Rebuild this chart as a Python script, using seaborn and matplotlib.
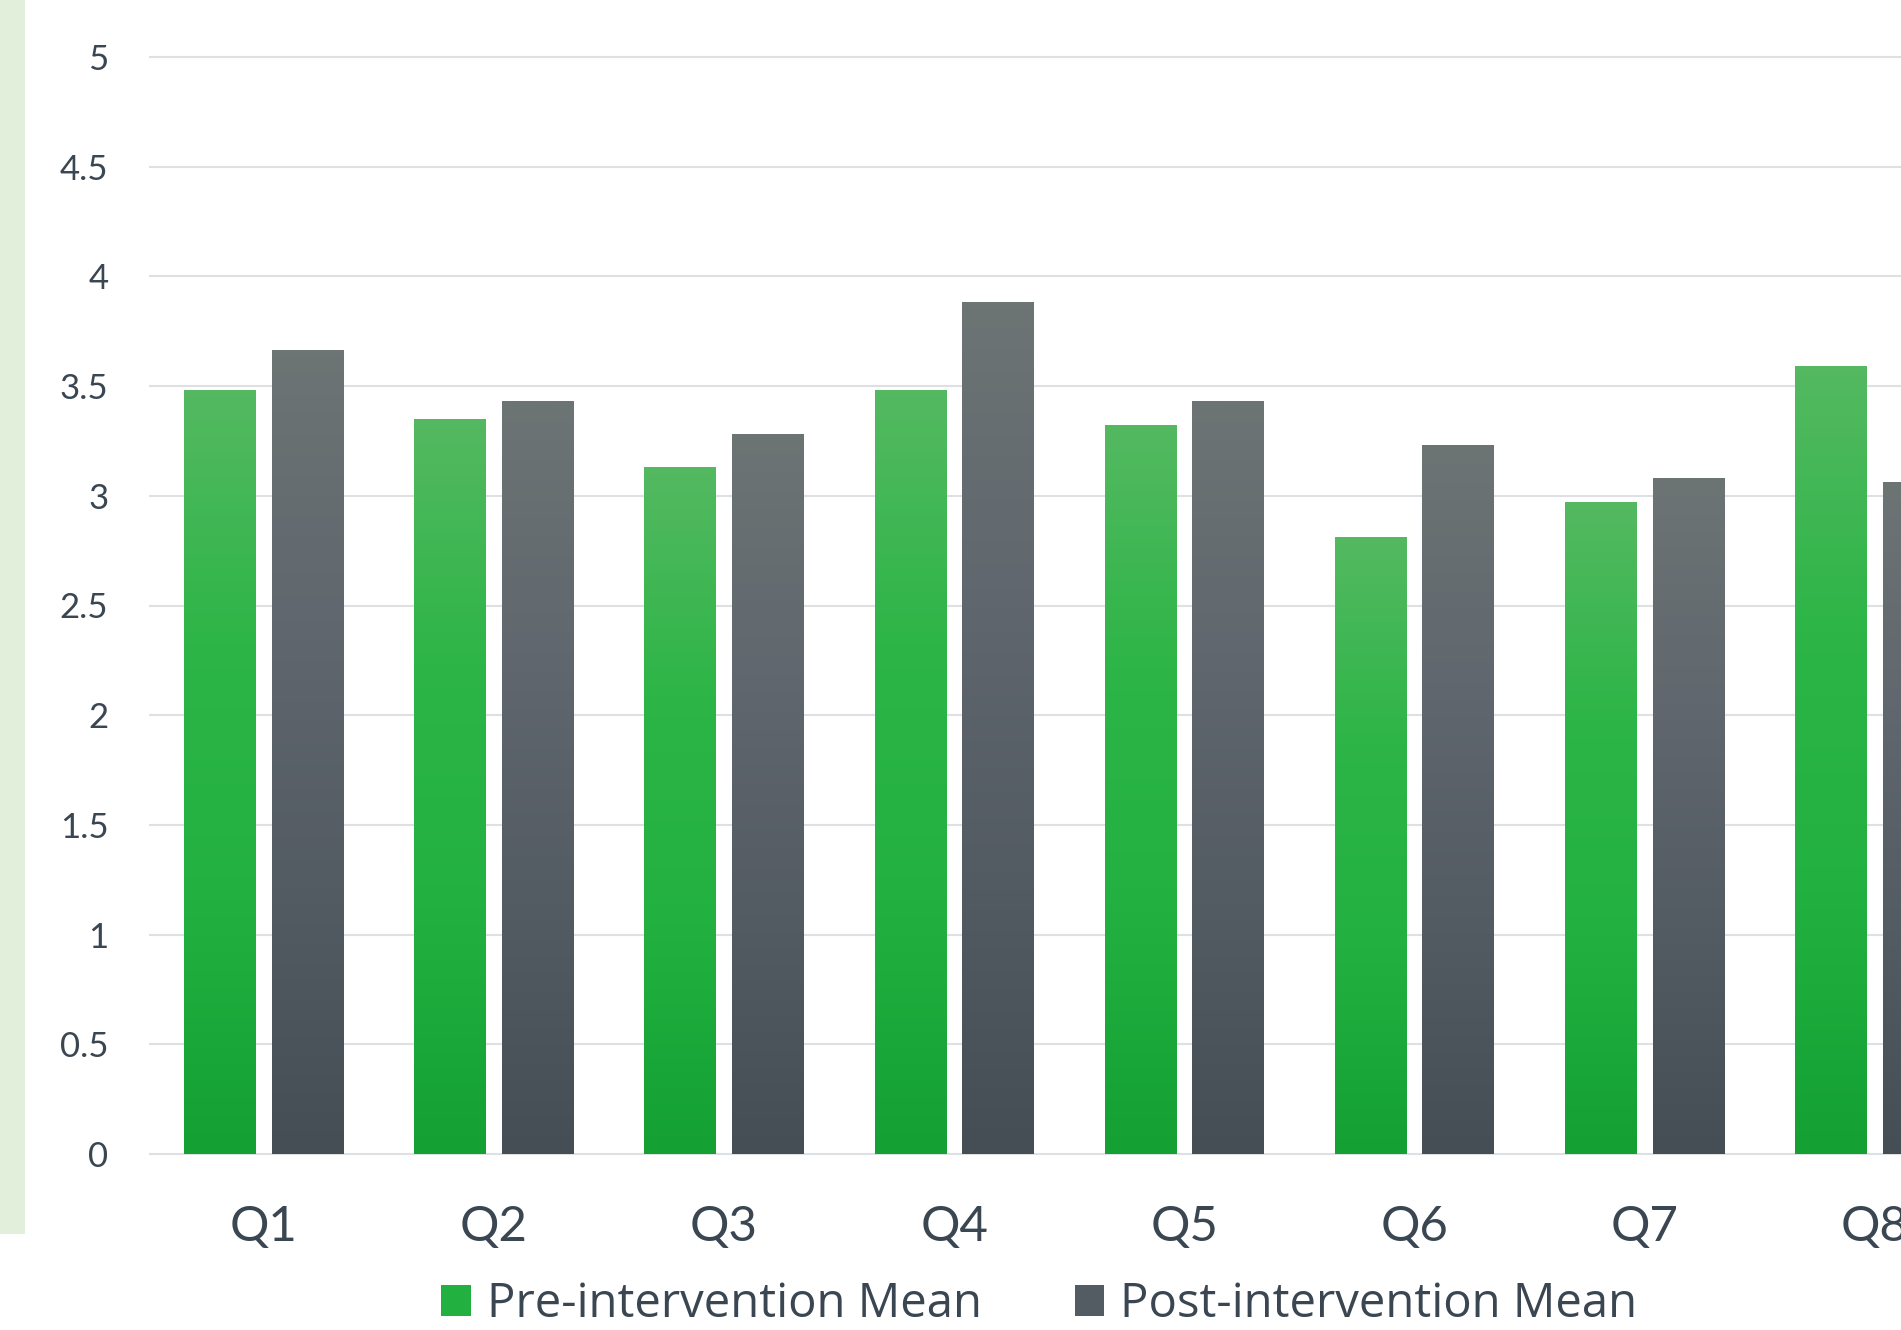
import numpy as np
import pandas as pd
import matplotlib
matplotlib.use("Agg")
import matplotlib.pyplot as plt
import seaborn as sns
from matplotlib.colors import LinearSegmentedColormap
from matplotlib.patches import Rectangle, Patch

# ---- data ----
categories = ["Q1", "Q2", "Q3", "Q4", "Q5", "Q6", "Q7", "Q8"]
pre_mean = [3.48, 3.35, 3.13, 3.48, 3.32, 2.81, 2.97, 3.59]
post_mean = [3.66, 3.43, 3.28, 3.88, 3.43, 3.23, 3.08, 3.06]
series_names = ["Pre-intervention Mean", "Post-intervention Mean"]
y_ticks = [0, 0.5, 1, 1.5, 2, 2.5, 3, 3.5, 4, 4.5, 5]

df = pd.DataFrame({
    "Question": categories * 2,
    "Mean": pre_mean + post_mean,
    "Series": [series_names[0]] * len(categories) + [series_names[1]] * len(categories),
})

green_stops = ["#14a033", "#22b141", "#2db547", "#54b961"]
gray_stops = ["#454d55", "#535b63", "#60676e", "#6c7474"]
green_cmap = LinearSegmentedColormap.from_list("g", green_stops)
gray_cmap = LinearSegmentedColormap.from_list("k", gray_stops)
text_color = "#3a4651"

sns.set_theme(style="white")
plt.rcParams["font.family"] = ["Lato", "DejaVu Sans"]

W, H = 1901, 1330
fig = plt.figure(figsize=(W / 100, H / 100), dpi=100)
fig.patch.set_facecolor("white")

# light green band on the left edge
fig.patches.append(Rectangle((0, 1 - 1234 / H), 25 / W, 1234 / H,
                             transform=fig.transFigure, facecolor="#e2efda",
                             edgecolor="none", zorder=0))

ax_left = 148.6 / W
ax_right = 1990 / W
ax_top = 1 - 54.8 / H
ax_bot = 1 - 1156.2 / H
ax = fig.add_axes([ax_left, ax_bot, ax_right - ax_left, ax_top - ax_bot])

sns.barplot(data=df, x="Question", y="Mean", hue="Series",
            palette=[green_stops[1], gray_stops[1]], saturation=1,
            width=0.76, gap=0.18, ax=ax, legend=False, linewidth=0)

grad = np.linspace(0, 1, 256).reshape(-1, 1)
for cont, cmap in zip(ax.containers, [green_cmap, gray_cmap]):
    for bar in cont:
        x0 = bar.get_x()
        w = bar.get_width()
        h = bar.get_height()
        ax.imshow(grad, extent=[x0, x0 + w, 0, h], origin="lower",
                  aspect="auto", cmap=cmap, zorder=bar.get_zorder() + 0.1,
                  interpolation="bilinear")

ax.set_xlim(-0.5, len(categories) - 0.5)
ax.set_ylim(-0.01, 5.01)
ax.set_yticks(y_ticks)
ax.set_yticklabels([f"{v:g}" for v in y_ticks])
ax.yaxis.grid(True, color="#dde1e4", linewidth=1.5)
ax.xaxis.grid(False)
ax.set_axisbelow(True)
for s in ax.spines.values():
    s.set_visible(False)
ax.set_xlabel("")
ax.set_ylabel("")
ax.tick_params(axis="y", length=0, pad=29, labelsize=25, labelcolor=text_color)
ax.tick_params(axis="x", length=0, pad=35, labelsize=35.5, labelcolor=text_color)

handles = [Patch(facecolor=green_stops[1], edgecolor="none"),
           Patch(facecolor=gray_stops[1], edgecolor="none")]
fig.legend(handles, series_names, loc="center", bbox_to_anchor=(0.5468, 0.019),
           ncol=2, frameon=False, labelcolor=text_color,
           prop={"family": ["Open Sans", "DejaVu Sans"], "size": 34},
           handlelength=0.63, handleheight=0.63, handletextpad=0.34,
           columnspacing=1.96, borderpad=0, borderaxespad=0)

fig.savefig("out.png", dpi=100, facecolor="white")
